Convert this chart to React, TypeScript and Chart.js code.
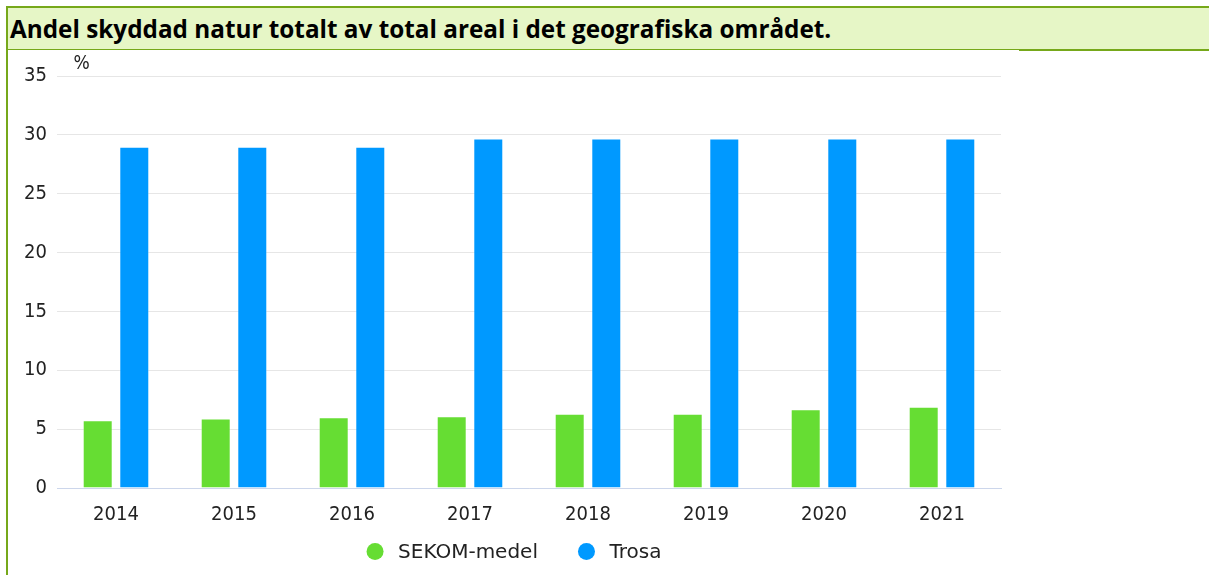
import React, { useEffect, useRef } from "react";
import Chart from "chart.js/auto";

const TITLE = "Andel skyddad natur totalt av total areal i det geografiska området.";
const Y_UNIT = "%";
const YEARS = ["2014", "2015", "2016", "2017", "2018", "2019", "2020", "2021"];
const SERIES_NAMES = ["SEKOM-medel", "Trosa"];
const SEKOM_VALUES = [5.75, 5.9, 6.0, 6.1, 6.3, 6.3, 6.7, 6.9];
const TROSA_VALUES = [29.0, 29.0, 29.0, 29.7, 29.7, 29.7, 29.7, 29.7];
const COLORS = ["#66dd33", "#0099ff"];

const FONT = "'DejaVu Sans Condensed', 'DejaVu Sans', sans-serif";
const LEGEND_FONT = "'DejaVu Sans', sans-serif";
const TEXT = "#222222";

const extras = {
  id: "extras",
  afterDraw(chart: any) {
    const ctx = chart.ctx as CanvasRenderingContext2D;
    const area = chart.chartArea;
    ctx.save();
    ctx.fillStyle = TEXT;
    ctx.font = `19px ${FONT}`;
    ctx.textAlign = "center";
    ctx.textBaseline = "middle";
    ctx.fillText(Y_UNIT, area.left + 24.5, area.top - 11.5);

    // legend
    ctx.font = `20px ${LEGEND_FONT}`;
    const r = 8.5;
    const textGap = 14.5;
    const itemGap = 40;
    const items = chart.data.datasets.map((d: any) => ({
      label: d.label,
      color: d.backgroundColor,
      w: 2 * r + textGap + ctx.measureText(d.label).width,
    }));
    const total = items.reduce((s: number, it: any) => s + it.w, 0) + itemGap * (items.length - 1);
    let x = chart.width / 2 - total / 2;
    const y = chart.height - 23.5;
    ctx.textAlign = "left";
    for (const it of items) {
      ctx.beginPath();
      ctx.fillStyle = it.color;
      ctx.arc(x + r, y, r, 0, Math.PI * 2);
      ctx.fill();
      ctx.fillStyle = TEXT;
      ctx.fillText(it.label, x + 2 * r + textGap, y + 1);
      x += it.w + itemGap;
    }
    ctx.restore();
  },
};

function ChartCanvas() {
  const ref = useRef<HTMLCanvasElement | null>(null);
  useEffect(() => {
    if (!ref.current) return;
    const chart = new Chart(ref.current, {
      type: "bar",
      data: {
        labels: YEARS,
        datasets: [
          {
            label: SERIES_NAMES[0],
            data: SEKOM_VALUES,
            backgroundColor: COLORS[0],
            borderColor: "rgba(255,255,255,0.35)",
            borderWidth: 1,
            borderSkipped: "bottom",
          },
          {
            label: SERIES_NAMES[1],
            data: TROSA_VALUES,
            backgroundColor: COLORS[1],
            borderColor: "rgba(255,255,255,0.35)",
            borderWidth: 1,
            borderSkipped: "bottom",
          },
        ],
      },
      options: {
        animation: false,
        responsive: false,
        maintainAspectRatio: false,
        layout: { padding: { top: 25, right: 19, bottom: 27, left: 0 } },
        datasets: { bar: { categoryPercentage: 0.62, barPercentage: 0.82 } },
        plugins: {
          legend: { display: false },
          tooltip: { enabled: false },
          title: { display: false },
        },
        scales: {
          x: {
            grid: { display: false, drawTicks: false },
            border: { display: true, color: "#ccd6eb", width: 1 },
            ticks: { color: TEXT, font: { family: FONT, size: 20 }, padding: 15 },
            afterFit(scale: any) {
              scale.height = 60;
            },
          },
          y: {
            min: 0,
            max: 35,
            grid: { color: "#e6e6e6", drawTicks: false, lineWidth: 1 },
            border: { display: false },
            ticks: {
              stepSize: 5,
              color: TEXT,
              font: { family: FONT, size: 20 },
              padding: 10,
            },
            afterFit(scale: any) {
              scale.width = 49;
            },
          },
        },
      },
      plugins: [extras],
    });
    return () => chart.destroy();
  }, []);
  return <canvas ref={ref} width={1012} height={524} style={{ position: "absolute", left: 8, top: 51, width: 1012, height: 524 }} />;
}

export default function App() {
  const green = "#76a81a";
  return (
    <div style={{ position: "absolute", left: 0, top: 0, width: 1209, height: 575, background: "#ffffff", overflow: "hidden" }}>
      <div
        style={{
          position: "absolute",
          left: 6,
          top: 6,
          width: 1203,
          height: 43,
          background: "#e6f6c6",
          borderTop: `2px solid ${green}`,
          boxSizing: "border-box",
        }}
      >
        <div
          style={{
            position: "absolute",
            left: 4,
            top: 0,
            height: 41,
            lineHeight: "41px",
            fontFamily: "'Open Sans', Lato, sans-serif",
            fontWeight: 700,
            fontSize: 24.3,
            color: "#000",
            whiteSpace: "nowrap",
          }}
        >
          {TITLE}
        </div>
      </div>
      <div style={{ position: "absolute", left: 6, top: 49, width: 1013, height: 1, background: green }} />
      <div style={{ position: "absolute", left: 1019, top: 49, width: 190, height: 2, background: green }} />
      <div style={{ position: "absolute", left: 6, top: 6, width: 2, height: 569, background: green }} />
      <ChartCanvas />
    </div>
  );
}
